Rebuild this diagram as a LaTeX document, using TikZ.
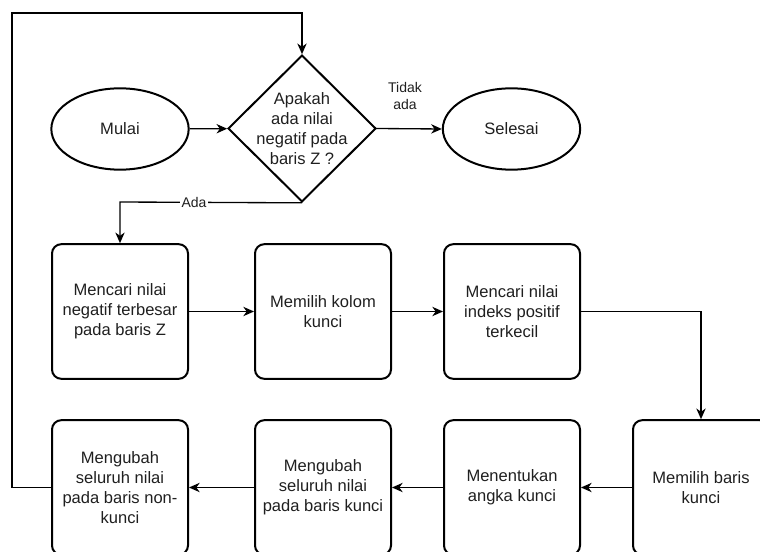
\documentclass[tikz,border=0pt]{standalone}
\usepackage{fontspec}
\setmainfont{Liberation Sans}
\usetikzlibrary{shapes.geometric,arrows.meta}
\tikzset{
  every picture/.style={x=0.75pt,y=-0.75pt},
  base/.style={font=\fontsize{12.4pt}{14.9pt}\selectfont, align=center, text=black!88},
  stepbox/.style={base, draw, line width=1.5pt, rounded corners=7pt, minimum width=102pt, minimum height=101pt, inner sep=0pt},
  term/.style={base, draw, ellipse, line width=1.5pt, minimum width=103pt, minimum height=61pt, inner sep=0pt},
  decision/.style={draw, diamond, line width=1.5pt, minimum width=111pt, minimum height=110pt, inner sep=0pt},
  txt/.style={base, inner sep=0pt},
  lbl/.style={font=\fontsize{10.5pt}{13pt}\selectfont, align=center, text=black!88, inner sep=1pt},
  arr/.style={line width=1pt, -{Stealth[length=8pt, width=7pt, inset=2.5pt]}}
}
\begin{document}
\begin{tikzpicture}
\useasboundingbox (0,0) rectangle (760,552);
\clip (0,0) rectangle (760,552);
% terminals and decision
\node[term] (mulai) at (120,129) {Mulai};
\node[decision] (dec) at (302,128.5) {};
\node[txt] (dectext) at (dec.center) {Apakah\\ada nilai\\negatif pada\\baris Z ?};
\node[term] (sel) at (511.5,129) {Selesai};
% boxes
\node[stepbox] (b1) at (120,311.5) {Mencari nilai\\negatif terbesar\\pada baris Z};
\node[stepbox] (b2) at (323,311.5) {Memilih kolom\\kunci};
\node[stepbox] (b3) at (512,311.5) {Mencari nilai\\indeks positif\\terkecil};
\node[stepbox] (b4) at (701,487.5) {Memilih baris\\kunci};
\node[stepbox] (b5) at (512,487.5) {Menentukan\\angka kunci};
\node[stepbox] (b6) at (323,487.5) {Mengubah\\seluruh nilai\\pada baris kunci};
\node[stepbox] (b7) at (120,487.5) {Mengubah\\seluruh nilai\\pada baris non-\\kunci};
% connectors
\draw[arr] (mulai) -- (dec);
\draw[arr] (dec.east) -- (sel.west);
\node[lbl] (tidak) at (405,96) {Tidak\\ada};
\coordinate (adacorner) at (120,202);
\draw[arr] (dec.south) -- (adacorner) -- (b1.north);
\node[lbl, fill=white] (ada) at (194,202) {Ada};
\draw[arr] (b1) -- (b2);
\draw[arr] (b2) -- (b3);
\draw[arr] (b3.east) -| (b4.north);
\draw[arr] (b4) -- (b5);
\draw[arr] (b5) -- (b6);
\draw[arr] (b6) -- (b7);
\coordinate (lt) at (12,13);
\draw[arr] (b7.west) -| (lt) -| (dec.north);
\end{tikzpicture}
\end{document}
